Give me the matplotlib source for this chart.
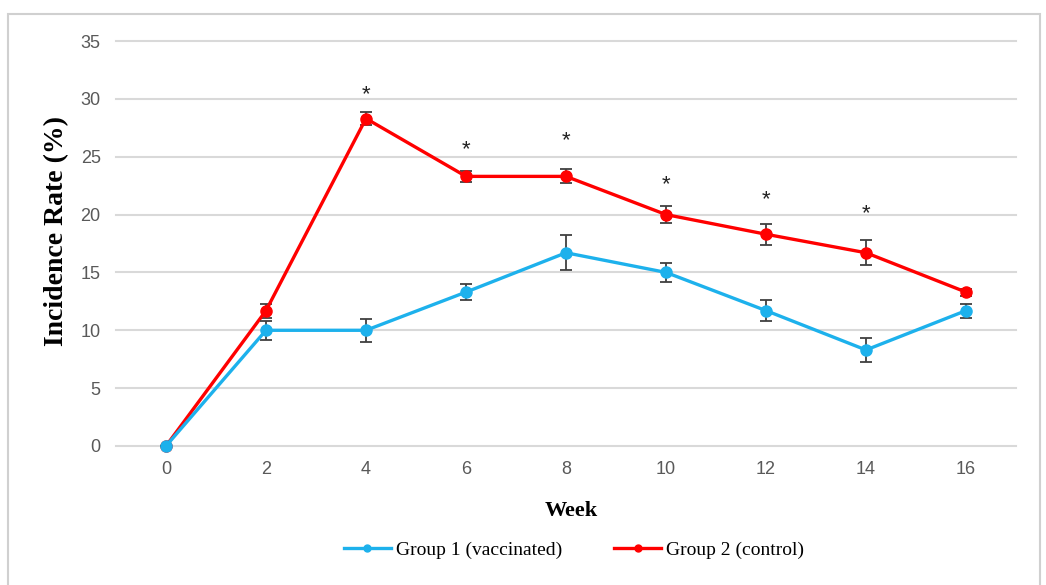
import matplotlib
matplotlib.use("Agg")
import matplotlib.pyplot as plt
from matplotlib.patches import Rectangle
from matplotlib.lines import Line2D

weeks = [0, 2, 4, 6, 8, 10, 12, 14, 16]
group1 = [0, 10.0, 10.0, 13.3, 16.7, 15.0, 11.7, 8.3, 11.7]
group1_err = [0, 0.8, 1.0, 0.7, 1.5, 0.8, 0.9, 1.0, 0.6]
group2 = [0, 11.7, 28.3, 23.3, 23.3, 20.0, 18.3, 16.7, 13.3]
group2_err = [0, 0.6, 0.6, 0.5, 0.6, 0.7, 0.9, 1.1, 0.3]
star_weeks = [4, 6, 8, 10, 12, 14]
star_y = [30.4, 25.6, 26.4, 22.6, 21.3, 20.1]
yticks = [0, 5, 10, 15, 20, 25, 30, 35]
xticks = [0, 2, 4, 6, 8, 10, 12, 14, 16]

W, H = 1046, 585
fig = plt.figure(figsize=(W / 100, H / 100), dpi=100)
fig.patch.set_facecolor("white")
fig.patches.append(Rectangle((8 / W, -0.05), (1040 - 8) / W, 1 - 14 / H + 0.05,
                             transform=fig.transFigure, fill=False,
                             edgecolor="#d0d0d0", linewidth=1.5))

ax = fig.add_axes([116 / W, 1 - 446 / H, 900 / W, 405 / H])
ax.set_xlim(-1, 17)
ax.set_ylim(0, 35)
for s in ax.spines.values():
    s.set_visible(False)
ax.set_yticks(yticks)
ax.set_xticks(xticks)
ax.yaxis.grid(True, color="#d9d9d9", linewidth=1.5)
ax.set_axisbelow(True)
for gl in ax.get_ygridlines():
    gl.set_clip_on(False)
ax.tick_params(length=0, labelsize=13, labelcolor="#595959")
ax.tick_params(axis="y", pad=11)
ax.tick_params(axis="x", pad=11)
for lab in ax.get_xticklabels() + ax.get_yticklabels():
    lab.set_fontfamily("Liberation Sans")

red = "#FF0000"
blue = "#1DB1EC"
ecol = "#404040"

ax.errorbar(weeks, group2, yerr=group2_err, color=red, lw=2.4, marker="o",
            markersize=8, ecolor=ecol, elinewidth=1.3, capsize=4, capthick=1.3,
            zorder=3, clip_on=False)
ax.errorbar(weeks, group1, yerr=group1_err, color=blue, lw=2.4, marker="o",
            markersize=8, ecolor=ecol, elinewidth=1.3, capsize=4, capthick=1.3,
            zorder=4, clip_on=False)

for xw, yv in zip(star_weeks, star_y):
    ax.text(xw, yv, "*", ha="center", va="center", fontsize=16,
            fontfamily="Liberation Sans", color="#222222")

fig.text(57 / W, 1 - 231 / H, "Incidence Rate (%)", rotation=90,
         ha="center", va="center", fontfamily="Liberation Serif",
         fontweight="bold", fontsize=20)
fig.text(571 / W, 1 - 511 / H, "Week", ha="center", va="center",
         fontfamily="Liberation Serif", fontweight="bold", fontsize=16)

handles = [Line2D([], [], color=blue, lw=2.4, marker="o", markersize=5),
           Line2D([], [], color=red, lw=2.4, marker="o", markersize=5)]
fig.legend(handles, ["Group 1 (vaccinated)", "Group 2 (control)"],
           loc="center", bbox_to_anchor=(574 / W, 1 - 550 / H), ncol=2,
           frameon=False, prop={"family": "Liberation Serif", "size": 14},
           handlelength=2.4, handletextpad=0.26, columnspacing=2.7,
           borderpad=0, borderaxespad=0)

fig.savefig("out.png", dpi=100, facecolor="white")
